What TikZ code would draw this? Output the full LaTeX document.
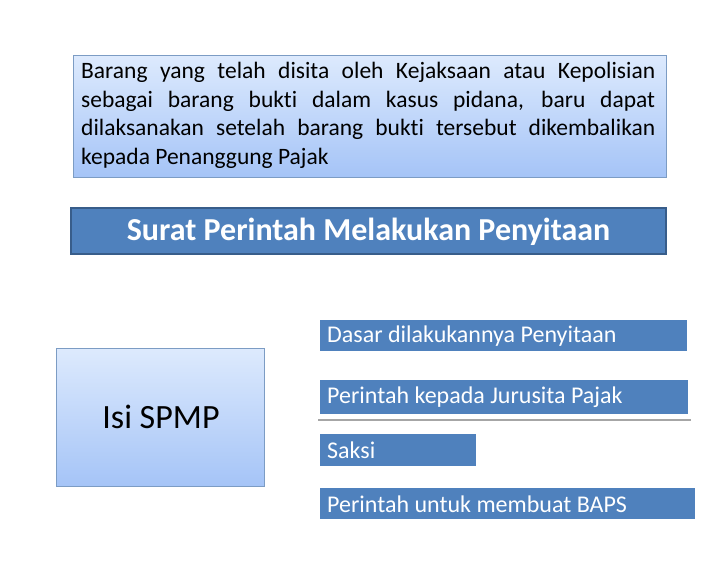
\documentclass[tikz,border=0pt]{standalone}
\usepackage{fontspec}
\setmainfont[Ligatures=NoCommon]{Carlito}
\definecolor{barblue}{HTML}{4F81BD}
\definecolor{bardark}{HTML}{385D8A}
\definecolor{lighttop}{HTML}{DDEAFD}
\definecolor{lightbot}{HTML}{A5C4F7}
\definecolor{boxedge}{HTML}{7C9CC4}
\begin{document}
\begin{tikzpicture}[x=1pt,y=-1pt,
  lightbox/.style={draw=boxedge,line width=0.8pt,top color=lighttop,bottom color=lightbot},
  itembar/.style={fill=barblue,inner sep=0pt},
  itemtext/.style={anchor=west,text=white,font=\fontsize{24}{28}\selectfont,inner sep=0pt}]
\useasboundingbox (0,0) rectangle (720,576);
% top box
\path[lightbox] (73,55) rectangle (666,177);
\node[anchor=north west,inner sep=0pt,text width=574pt,align=justify,
  font=\fontsize{23.5}{28.7}\selectfont] (note) at (81,62)
  {Barang yang telah disita oleh Kejaksaan atau Kepolisian\linebreak sebagai barang bukti dalam kasus pidana, baru dapat\linebreak dilaksanakan setelah barang bukti tersebut dikembalikan\linebreak kepada Penanggung Pajak};
% title bar
\path[fill=barblue,draw=bardark,line width=2.5pt] (71,208) rectangle (666,254);
\node[text=white,font=\fontsize{32}{38}\selectfont\bfseries] (title) at (368.5,232) {Surat Perintah Melakukan Penyitaan};
% Isi SPMP box
\path[lightbox] (56,348) rectangle (264,486);
\node[font=\fontsize{34}{40}\selectfont] (isi) at (161,417) {Isi SPMP};
% item bars
\path[itembar] (320,320) rectangle (687,351);
\node[itemtext] (d1) at (327,336) {Dasar dilakukannya Penyitaan};
\path[itembar] (320,380) rectangle (688,414);
\node[itemtext] (d2) at (327,397) {Perintah kepada Jurusita Pajak};
\draw[color=gray!70,line width=1.2pt] (318,420) -- (691,420);
\path[itembar] (320,434) rectangle (476,466);
\node[itemtext] (d3) at (327,450) {Saksi};
\path[itembar] (320,488) rectangle (695,519);
\node[itemtext] (d4) at (327,504) {Perintah untuk membuat BAPS};
\end{tikzpicture}
\end{document}
